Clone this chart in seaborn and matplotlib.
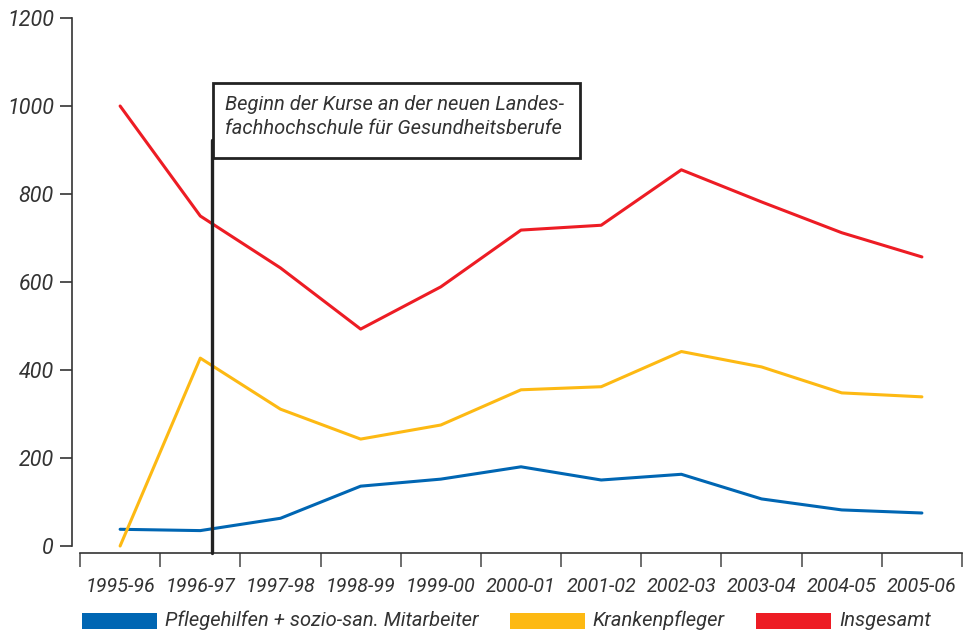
import matplotlib
matplotlib.use('Agg')
import matplotlib.pyplot as plt
from matplotlib.patches import Patch, Rectangle
import numpy as np
import pandas as pd
import seaborn as sns

# Schuljahre
jahre = ['1995-96', '1996-97', '1997-98', '1998-99', '1999-00', '2000-01',
         '2001-02', '2002-03', '2003-04', '2004-05', '2005-06']
pflegehilfen = [38, 35, 63, 136, 152, 180, 150, 163, 107, 82, 75]
krankenpfleger = [0, 427, 311, 243, 275, 355, 362, 442, 407, 348, 339]
insgesamt = [1000, 750, 632, 493, 589, 718, 729, 855, 782, 712, 657]

serien = ['Pflegehilfen + sozio-san. Mitarbeiter', 'Krankenpfleger', 'Insgesamt']
farben = ['#0066B3', '#FDB913', '#ED1C24']

df = pd.DataFrame({
    'pos': list(range(len(jahre))) * 3,
    'wert': pflegehilfen + krankenpfleger + insgesamt,
    'serie': [serien[0]] * len(jahre) + [serien[1]] * len(jahre) + [serien[2]] * len(jahre),
})

sns.set_style('white')
schrift = ['Roboto', 'DejaVu Sans']
plt.rcParams['font.family'] = schrift
plt.rcParams['font.weight'] = 'normal'
textfarbe = '#333333'
gr = 14.5

fig = plt.figure(figsize=(9.63, 6.33), dpi=100)
ax = fig.add_axes([72 / 963, (633 - 553) / 633, (962 - 72) / 963, (553 - 18) / 633])

sns.lineplot(data=df, x='pos', y='wert', hue='serie', palette=farben,
             hue_order=serien, sort=False, linewidth=2.2, legend=False, ax=ax)

ax.set_xlim(-0.6, 10.5)
ax.set_ylim(-15.9, 1200)
ax.set_xlabel('')
ax.set_ylabel('')

# Achsen
for s in ['top', 'right']:
    ax.spines[s].set_visible(False)
for s in ['left', 'bottom']:
    ax.spines[s].set_color('#333333')
    ax.spines[s].set_linewidth(1.2)
ax.spines['left'].set_bounds(0, 1200)
ax.spines['bottom'].set_bounds(-0.5, 10.5)

ax.set_yticks(range(0, 1201, 200))
ax.set_yticklabels([str(v) for v in range(0, 1201, 200)], fontsize=gr + 1,
                   style='italic', color=textfarbe)
ax.tick_params(axis='y', length=9, width=1.2, color='#333333', pad=4, left=True)

ax.set_xticks(np.arange(-0.5, 10.6, 1))
ax.set_xticklabels([])
ax.tick_params(axis='x', which='major', length=10, width=1.2, color='#555555', bottom=True)
ax.set_xticks(range(len(jahre)), minor=True)
ax.set_xticklabels(jahre, minor=True, fontsize=gr - 0.3, style='italic', color=textfarbe)
ax.tick_params(axis='x', which='minor', length=0, pad=17)

# Markierung Kursbeginn
ax.plot([1.15, 1.15], [-15.9, 923], color='#222222', lw=2.4, clip_on=False, zorder=5)
ax.add_patch(Rectangle((1.16, 882), 4.58, 170, facecolor='white',
                       edgecolor='#222222', lw=2, zorder=6, clip_on=False))
ax.text(1.31, 976, 'Beginn der Kurse an der neuen Landes-\nfachhochschule für Gesundheitsberufe',
        fontsize=gr, style='italic', color=textfarbe, va='center', ha='left',
        linespacing=1.3, zorder=7)

# Legende
handles = [Patch(facecolor=c, edgecolor='none') for c in farben]
leg = fig.legend(handles, serien, loc='center left', bbox_to_anchor=(82 / 963, 1 - 620 / 633),
                 ncol=3, frameon=False, handlelength=5.4, handleheight=1.4,
                 handletextpad=0.6, columnspacing=2.2, borderaxespad=0, borderpad=0)
for t in leg.get_texts():
    t.set_fontsize(gr)
    t.set_style('italic')
    t.set_color(textfarbe)

fig.savefig('out.png', dpi=100)
